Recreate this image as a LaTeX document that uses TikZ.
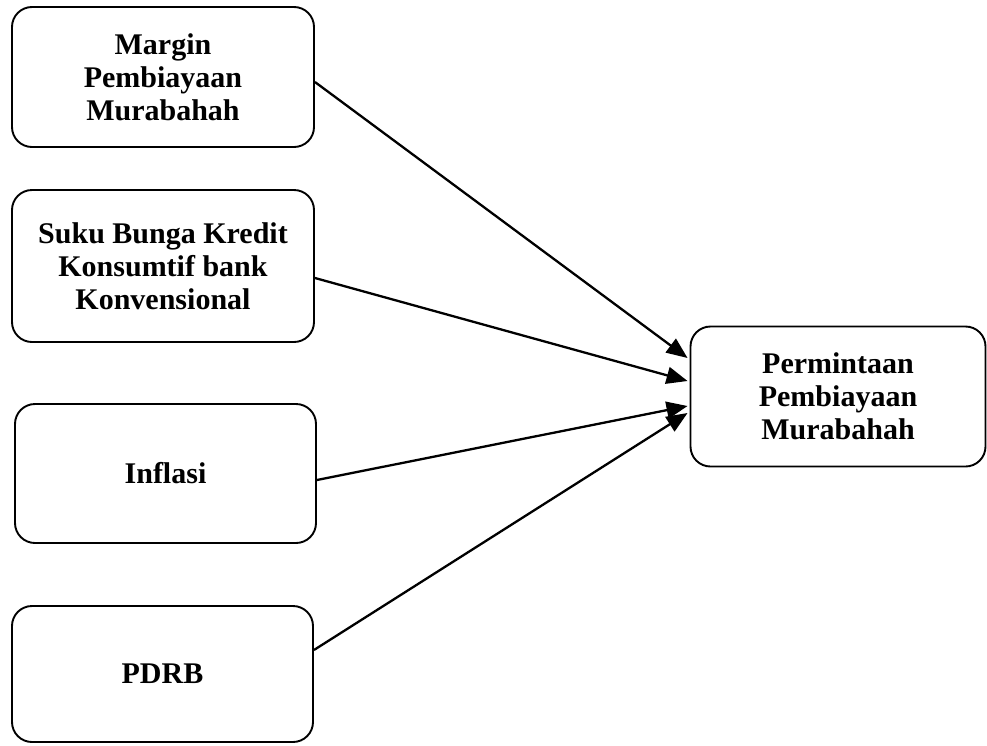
\documentclass[tikz,border=0pt]{standalone}
\usepackage{fontspec}
\setmainfont{Liberation Serif}
\usetikzlibrary{arrows.meta}
\begin{document}
\begin{tikzpicture}[x=1pt,y=-1pt,
  box/.style={draw,line width=1.9pt,rounded corners=20pt,align=center,
    font=\fontsize{30}{33}\selectfont\bfseries,inner sep=0pt},
  arr/.style={line width=2.3pt,-{Triangle[length=21pt,width=17pt]}}]
\useasboundingbox (0,0) rectangle (987,745);
\node[box,minimum width=302pt,minimum height=140pt] (b1) at (163,77) {Margin\\Pembiayaan\\Murabahah};
\node[box,minimum width=302pt,minimum height=152pt] (b2) at (163,266) {Suku Bunga Kredit\\Konsumtif bank\\Konvensional};
\node[box,minimum width=301pt,minimum height=139pt] (b3) at (165.5,473.5) {Inflasi};
\node[box,minimum width=301pt,minimum height=136pt] (b4) at (162.5,674) {PDRB};
\node[box,minimum width=295pt,minimum height=140pt] (t) at (838,396.5) {Permintaan\\Pembiayaan\\Murabahah};
\draw[arr] ([yshift=-5pt]b1.east) -- ([xshift=-2pt,yshift=38.5pt]t.west);
\draw[arr] ([yshift=-12pt]b2.east) -- ([xshift=-2pt,yshift=15.5pt]t.west);
\draw[arr] ([yshift=-6.5pt]b3.east) -- ([xshift=-2pt,yshift=-9.5pt]t.west);
\draw[arr] ([yshift=24pt]b4.east) -- ([xshift=-2pt,yshift=-16.5pt]t.west);
\end{tikzpicture}
\end{document}
